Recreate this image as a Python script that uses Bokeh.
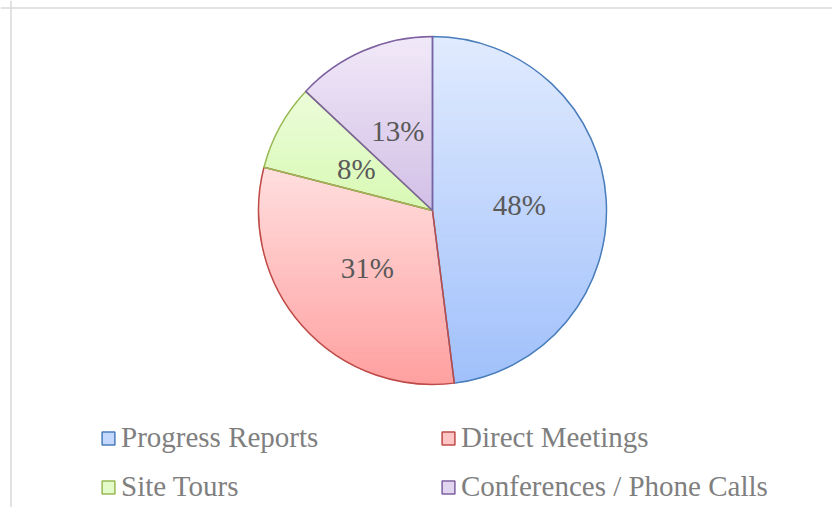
import numpy as np
from bokeh.plotting import figure
from bokeh.models import Range1d, Legend, LegendItem, Span, ColumnDataSource
from bokeh.core.properties import value
from bokeh.embed import file_html
from bokeh.resources import INLINE

# ---- data ----
categories = ["Progress Reports", "Direct Meetings", "Site Tours", "Conferences / Phone Calls"]
shares = [48, 31, 8, 13]

# ---- styles ----
top_colors = ["#e1ebfe", "#ffdfdf", "#ecfcda", "#f1e9f8"]
bottom_colors = ["#a0c0fb", "#ffa0a0", "#d8f9b4", "#d2bfe6"]
mid_colors = ["#c4d7fc", "#ffc4c4", "#e3fbc8", "#e2d5ef"]
line_colors = ["#4a7ebb", "#be4b48", "#98b954", "#7d60a0"]

W, H = 832, 507
p = figure(width=W, height=H, x_range=Range1d(0, W), y_range=Range1d(0, H),
           x_axis_type=None, y_axis_type=None, toolbar_location=None,
           output_backend="svg", min_border=0, outline_line_color=None,
           background_fill_color="white", border_fill_color="white")
p.xgrid.visible = False
p.ygrid.visible = False

cx, cy, R = 432.0, 297.0, 174.0

frac = np.array(shares, dtype=float) / float(sum(shares))
cum = np.concatenate([[0.0], np.cumsum(frac)])
theta_a = np.pi / 2 - 2 * np.pi * cum[:-1]
theta_b = np.pi / 2 - 2 * np.pi * cum[1:]


def hex2rgb(h):
    h = h.lstrip("#")
    return np.array([int(h[i:i + 2], 16) for i in (0, 2, 4)], dtype=float)


def mix(c1, c2, t):
    c = hex2rgb(c1) * (1 - t) + hex2rgb(c2) * t
    return "#%02x%02x%02x" % tuple(int(round(v)) for v in c)


def clip(poly, y0, keep_above):
    out = []
    n = len(poly)
    for i in range(n):
        P = poly[i]
        Q = poly[(i + 1) % n]
        inP = P[1] >= y0 if keep_above else P[1] <= y0
        inQ = Q[1] >= y0 if keep_above else Q[1] <= y0
        if inP:
            out.append(P)
        if inP != inQ:
            t = (y0 - P[1]) / (Q[1] - P[1])
            out.append((P[0] + t * (Q[0] - P[0]), y0))
    return out


# gradient bands
xs, ys, cols = [], [], []
NB = 70
for i in range(len(shares)):
    ang = np.linspace(theta_a[i], theta_b[i], 300)
    poly = [(cx, cy)] + list(zip(cx + R * np.cos(ang), cy + R * np.sin(ang)))
    ymin = min(q[1] for q in poly)
    ymax = max(q[1] for q in poly)
    hgt = (ymax - ymin) / NB
    for k in range(NB):
        yt = ymax - k * hgt
        yb = ymax - (k + 1) * hgt
        band = clip(clip(poly, yb, True), yt, False)
        if len(band) < 3:
            continue
        xs.append([q[0] for q in band])
        ys.append([q[1] for q in band])
        cols.append(mix(top_colors[i], bottom_colors[i], (k + 0.5) / NB))

p.patches(xs=xs, ys=ys, fill_color=cols, line_color=cols, line_width=1)

# outlines
src = ColumnDataSource(dict(start=list(theta_b), end=list(theta_a), lc=line_colors))
p.wedge(x=cx, y=cy, radius=R, start_angle="start", end_angle="end",
        direction="anticlock", fill_color=None, line_color="lc",
        line_width=1.5, source=src)

# labels
mid = (theta_a + theta_b) / 2
lab = ColumnDataSource(dict(x=list(cx + 0.5 * R * np.cos(mid)),
                            y=list(cy + 0.5 * R * np.sin(mid)),
                            t=["%d%%" % s for s in shares]))
p.text(x="x", y="y", text="t", source=lab, text_font=value("Liberation Serif"),
       text_font_size=value("29px"), text_color="#595959",
       text_align="center", text_baseline="middle")

# legend proxies
nan = float("nan")
proxies = []
for i in range(len(categories)):
    r = p.quad(left=[nan], right=[nan], top=[nan], bottom=[nan],
               fill_color=mid_colors[i], line_color=line_colors[i], line_width=1.5)
    proxies.append(r)


def make_legend(idx, loc):
    leg = Legend(items=[LegendItem(label=categories[j], renderers=[proxies[j]]) for j in idx],
                 location=loc, orientation="vertical", glyph_width=16, glyph_height=16,
                 label_standoff=5, spacing=16, padding=0, margin=0,
                 label_text_font="Liberation Serif", label_text_font_size="29px",
                 label_text_color="#7f7f7f", border_line_color=None,
                 background_fill_alpha=0)
    p.add_layout(leg)


make_legend([0, 2], (100, 4))
make_legend([1, 3], (440, 4))

# chart border (top and left edges visible)
p.add_layout(Span(location=H - 7.5, dimension="width", line_color="#d9d9d9", line_width=1.5))
p.add_layout(Span(location=10.5, dimension="height", line_color="#d9d9d9", line_width=1.5))

open("out.html", "w").write(file_html(p, INLINE))
